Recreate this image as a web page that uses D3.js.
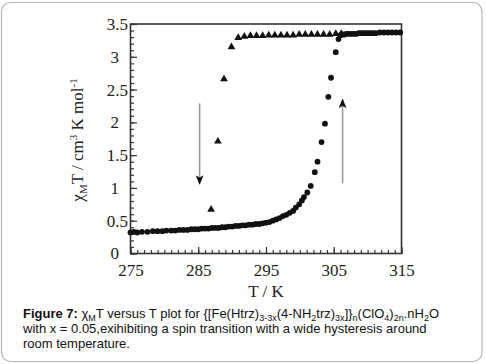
<!DOCTYPE html>
<html>
<head>
<meta charset="utf-8">
<script src="https://cdn.jsdelivr.net/npm/d3@7/dist/d3.min.js"></script>
<style>
  html, body { margin: 0; padding: 0; background: #fff; }
  svg { display: block; }
</style>
</head>
<body>
<svg id="chart" width="486" height="364"></svg>
<script>
// ---- Data ----
// Cooling branch (triangles): temperature (K) and chi_M T (cm3 K mol-1)
const coolT   = [286.9, 287.9, 288.8, 289.9, 290.9, 291.8, 292.7, 293.6, 294.5, 295.4, 296.3, 297.2, 298.1, 299.0, 299.9, 300.8, 301.7, 302.6, 303.5, 304.4, 305.3, 306.1];
const coolChi = [0.67, 1.71, 2.66, 3.15, 3.29, 3.31, 3.32, 3.32, 3.32, 3.33, 3.33, 3.33, 3.33, 3.33, 3.34, 3.34, 3.34, 3.34, 3.34, 3.34, 3.35, 3.35];
// Heating branch (circles)
const heatT   = [275.0, 275.5, 276.0, 276.7, 277.5, 278.3, 279.0, 279.7, 280.3, 281.0, 281.6, 282.2, 282.8, 283.4, 284.0, 284.5, 285.0, 285.5, 286.0, 286.5, 287.0, 287.5, 288.0, 288.5, 289.0, 289.5, 290.0, 290.5, 291.0, 291.5, 292.0, 292.5, 293.0, 293.5, 294.0, 294.5, 295.0, 295.5, 296.0, 296.5, 297.0, 297.5, 298.0, 298.5, 299.0, 299.4, 299.9, 300.3, 300.6, 301.1, 301.6, 302.2, 302.6, 303.2, 303.7, 304.2, 304.6, 305.3, 305.7, 306.0, 306.3, 306.6, 306.9, 307.2, 307.5, 307.8, 308.1, 308.4, 308.7, 309.0, 309.3, 309.6, 309.9, 310.2, 310.5, 310.8, 311.2, 311.8, 312.4, 313.0, 313.6, 314.2, 314.8];
const heatChi = [0.32, 0.33, 0.32, 0.33, 0.33, 0.34, 0.34, 0.34, 0.35, 0.35, 0.35, 0.36, 0.36, 0.36, 0.37, 0.37, 0.37, 0.38, 0.38, 0.38, 0.39, 0.39, 0.39, 0.40, 0.40, 0.41, 0.41, 0.42, 0.42, 0.43, 0.43, 0.44, 0.44, 0.45, 0.45, 0.46, 0.47, 0.48, 0.50, 0.52, 0.54, 0.57, 0.59, 0.62, 0.65, 0.70, 0.75, 0.81, 0.86, 0.93, 1.03, 1.24, 1.40, 1.70, 1.98, 2.39, 2.68, 3.07, 3.27, 3.33, 3.34, 3.34, 3.35, 3.35, 3.35, 3.35, 3.35, 3.35, 3.36, 3.36, 3.36, 3.36, 3.36, 3.36, 3.36, 3.36, 3.36, 3.37, 3.37, 3.37, 3.37, 3.37, 3.37];
// Arrows: [T, fromChi, toChi]
const arrows = [[285.2, 2.29, 1.06], [306.3, 1.07, 2.35]];
// Axis ticks
const xTicks = [275, 285, 295, 305, 315];
const yTicks = [0, 0.5, 1, 1.5, 2, 2.5, 3, 3.5];

// ---- Layout ----
const svg = d3.select("#chart");
const x = d3.scaleLinear().domain([275, 315]).range([130.5, 401.5]);
const y = d3.scaleLinear().domain([0, 3.5]).range([253.5, 24]);
const serif = "'Liberation Serif', 'Times New Roman', serif";
const sans = "'Liberation Sans', Arial, sans-serif";

// Outer rounded border
svg.append("rect").attr("x", 1.5).attr("y", 2.5).attr("width", 480.5).attr("height", 359)
  .attr("rx", 9).attr("fill", "none").attr("stroke", "#b4b4b4").attr("stroke-width", 1.2);

// Frame
svg.append("rect").attr("x", x(275)).attr("y", y(3.5))
  .attr("width", x(315) - x(275)).attr("height", y(0) - y(3.5))
  .attr("fill", "none").attr("stroke", "#333").attr("stroke-width", 1.6);

// Minor ticks y
const gyMinor = svg.append("g").attr("transform", `translate(${x(275)},0)`)
  .call(d3.axisLeft(y).tickValues(d3.range(0, 3.51, 0.1)).tickSize(-3.5).tickFormat(""));
gyMinor.select(".domain").remove();
// Major y axis
const gy = svg.append("g").attr("transform", `translate(${x(275)},0)`)
  .call(d3.axisLeft(y).tickValues(yTicks).tickSize(-6.5).tickPadding(3).tickFormat(d => String(d)));
gy.select(".domain").remove();
gy.selectAll("text").attr("font-family", serif).attr("font-size", 17).attr("fill", "#222")
  .attr("x", d => (Number.isInteger(d) ? -11.5 : -2.5));

// Minor ticks x
const gxMinor = svg.append("g").attr("transform", `translate(0,${y(0)})`)
  .call(d3.axisBottom(x).tickValues(d3.range(275, 315.1, 1)).tickSize(-3.5).tickFormat(""));
gxMinor.select(".domain").remove();
const gx = svg.append("g").attr("transform", `translate(0,${y(0)})`)
  .call(d3.axisBottom(x).tickValues(xTicks).tickSize(-6.5).tickPadding(10.5).tickFormat(d => String(d)));
gx.select(".domain").remove();
gx.selectAll("text").attr("font-family", serif).attr("font-size", 17).attr("fill", "#222");
svg.selectAll(".tick line").attr("stroke", "#333").attr("stroke-width", 1.2);

// Axis titles
svg.append("text").attr("x", 266).attr("y", 297).attr("text-anchor", "middle")
  .attr("font-family", serif).attr("font-size", 17).attr("fill", "#222").text("T / K");

const yt = svg.append("text").attr("transform", "translate(83,140) rotate(-90)")
  .attr("text-anchor", "middle").attr("font-family", serif).attr("font-size", 17).attr("fill", "#222");
yt.append("tspan").text("χ");
yt.append("tspan").attr("font-size", 11).attr("dy", 4).text("M");
yt.append("tspan").attr("dy", -4).text("T / cm");
yt.append("tspan").attr("font-size", 11).attr("dy", -6).text("3");
yt.append("tspan").attr("dy", 6).text(" K mol");
yt.append("tspan").attr("font-size", 11).attr("dy", -6).text("-1");

// Arrows
const defs = svg.append("defs");
defs.append("marker").attr("id", "ah").attr("viewBox", "0 0 12 10").attr("refX", 11).attr("refY", 5)
  .attr("markerWidth", 12).attr("markerHeight", 8).attr("markerUnits", "userSpaceOnUse").attr("orient", "auto")
  .append("path").attr("d", "M0,0 L12,5 L0,10 L3,5 Z").attr("fill", "#111");
svg.selectAll(".arrow").data(arrows).join("line").attr("class", "arrow")
  .attr("x1", d => x(d[0])).attr("x2", d => x(d[0]))
  .attr("y1", d => y(d[1])).attr("y2", d => y(d[2]))
  .attr("stroke", "#999").attr("stroke-width", 1.6).attr("marker-end", "url(#ah)");

// Heating circles
const heat = heatT.map((t, i) => ({t, v: heatChi[i]}));
svg.append("g").selectAll("circle").data(heat).join("circle")
  .attr("cx", d => x(d.t)).attr("cy", d => y(d.v)).attr("r", 2.9).attr("fill", "#111");

// Cooling triangles
const cool = coolT.map((t, i) => ({t, v: coolChi[i]}));
const tri = d3.symbol().type(d3.symbolTriangle).size(26);
svg.append("g").selectAll("path").data(cool).join("path")
  .attr("transform", d => `translate(${x(d.t)},${y(d.v)})`).attr("d", tri).attr("fill", "#111");

// Caption
const cap = svg.append("g").attr("font-family", sans).attr("font-size", 13).attr("fill", "#111");
const l1 = cap.append("text").attr("x", 23).attr("y", 317.5);
l1.append("tspan").attr("font-weight", "bold").text("Figure 7: ");
const parts = [["χ", 0], ["M", 1], ["T versus T plot for {[Fe(Htrz)", 0], ["3-3x", 1], ["(4-NH", 0], ["2", 1], ["trz)", 0], ["3x", 1], ["]}", 0], ["n", 1], ["(ClO", 0], ["4", 1], [")", 0], ["2n", 1], [".nH", 0], ["2", 1], ["O", 0]];
let prevSub = 0;
parts.forEach(([txt, sub]) => {
  const dy = sub === prevSub ? 0 : (sub ? 3.5 : -3.5);
  l1.append("tspan").attr("dy", dy).attr("font-size", sub ? 9 : 13).text(txt);
  prevSub = sub;
});
cap.append("text").attr("x", 23).attr("y", 333).text("with x = 0.05,exihibiting a spin transition with a wide hysteresis around");
cap.append("text").attr("x", 23).attr("y", 348).text("room temperature.");
</script>
</body>
</html>
